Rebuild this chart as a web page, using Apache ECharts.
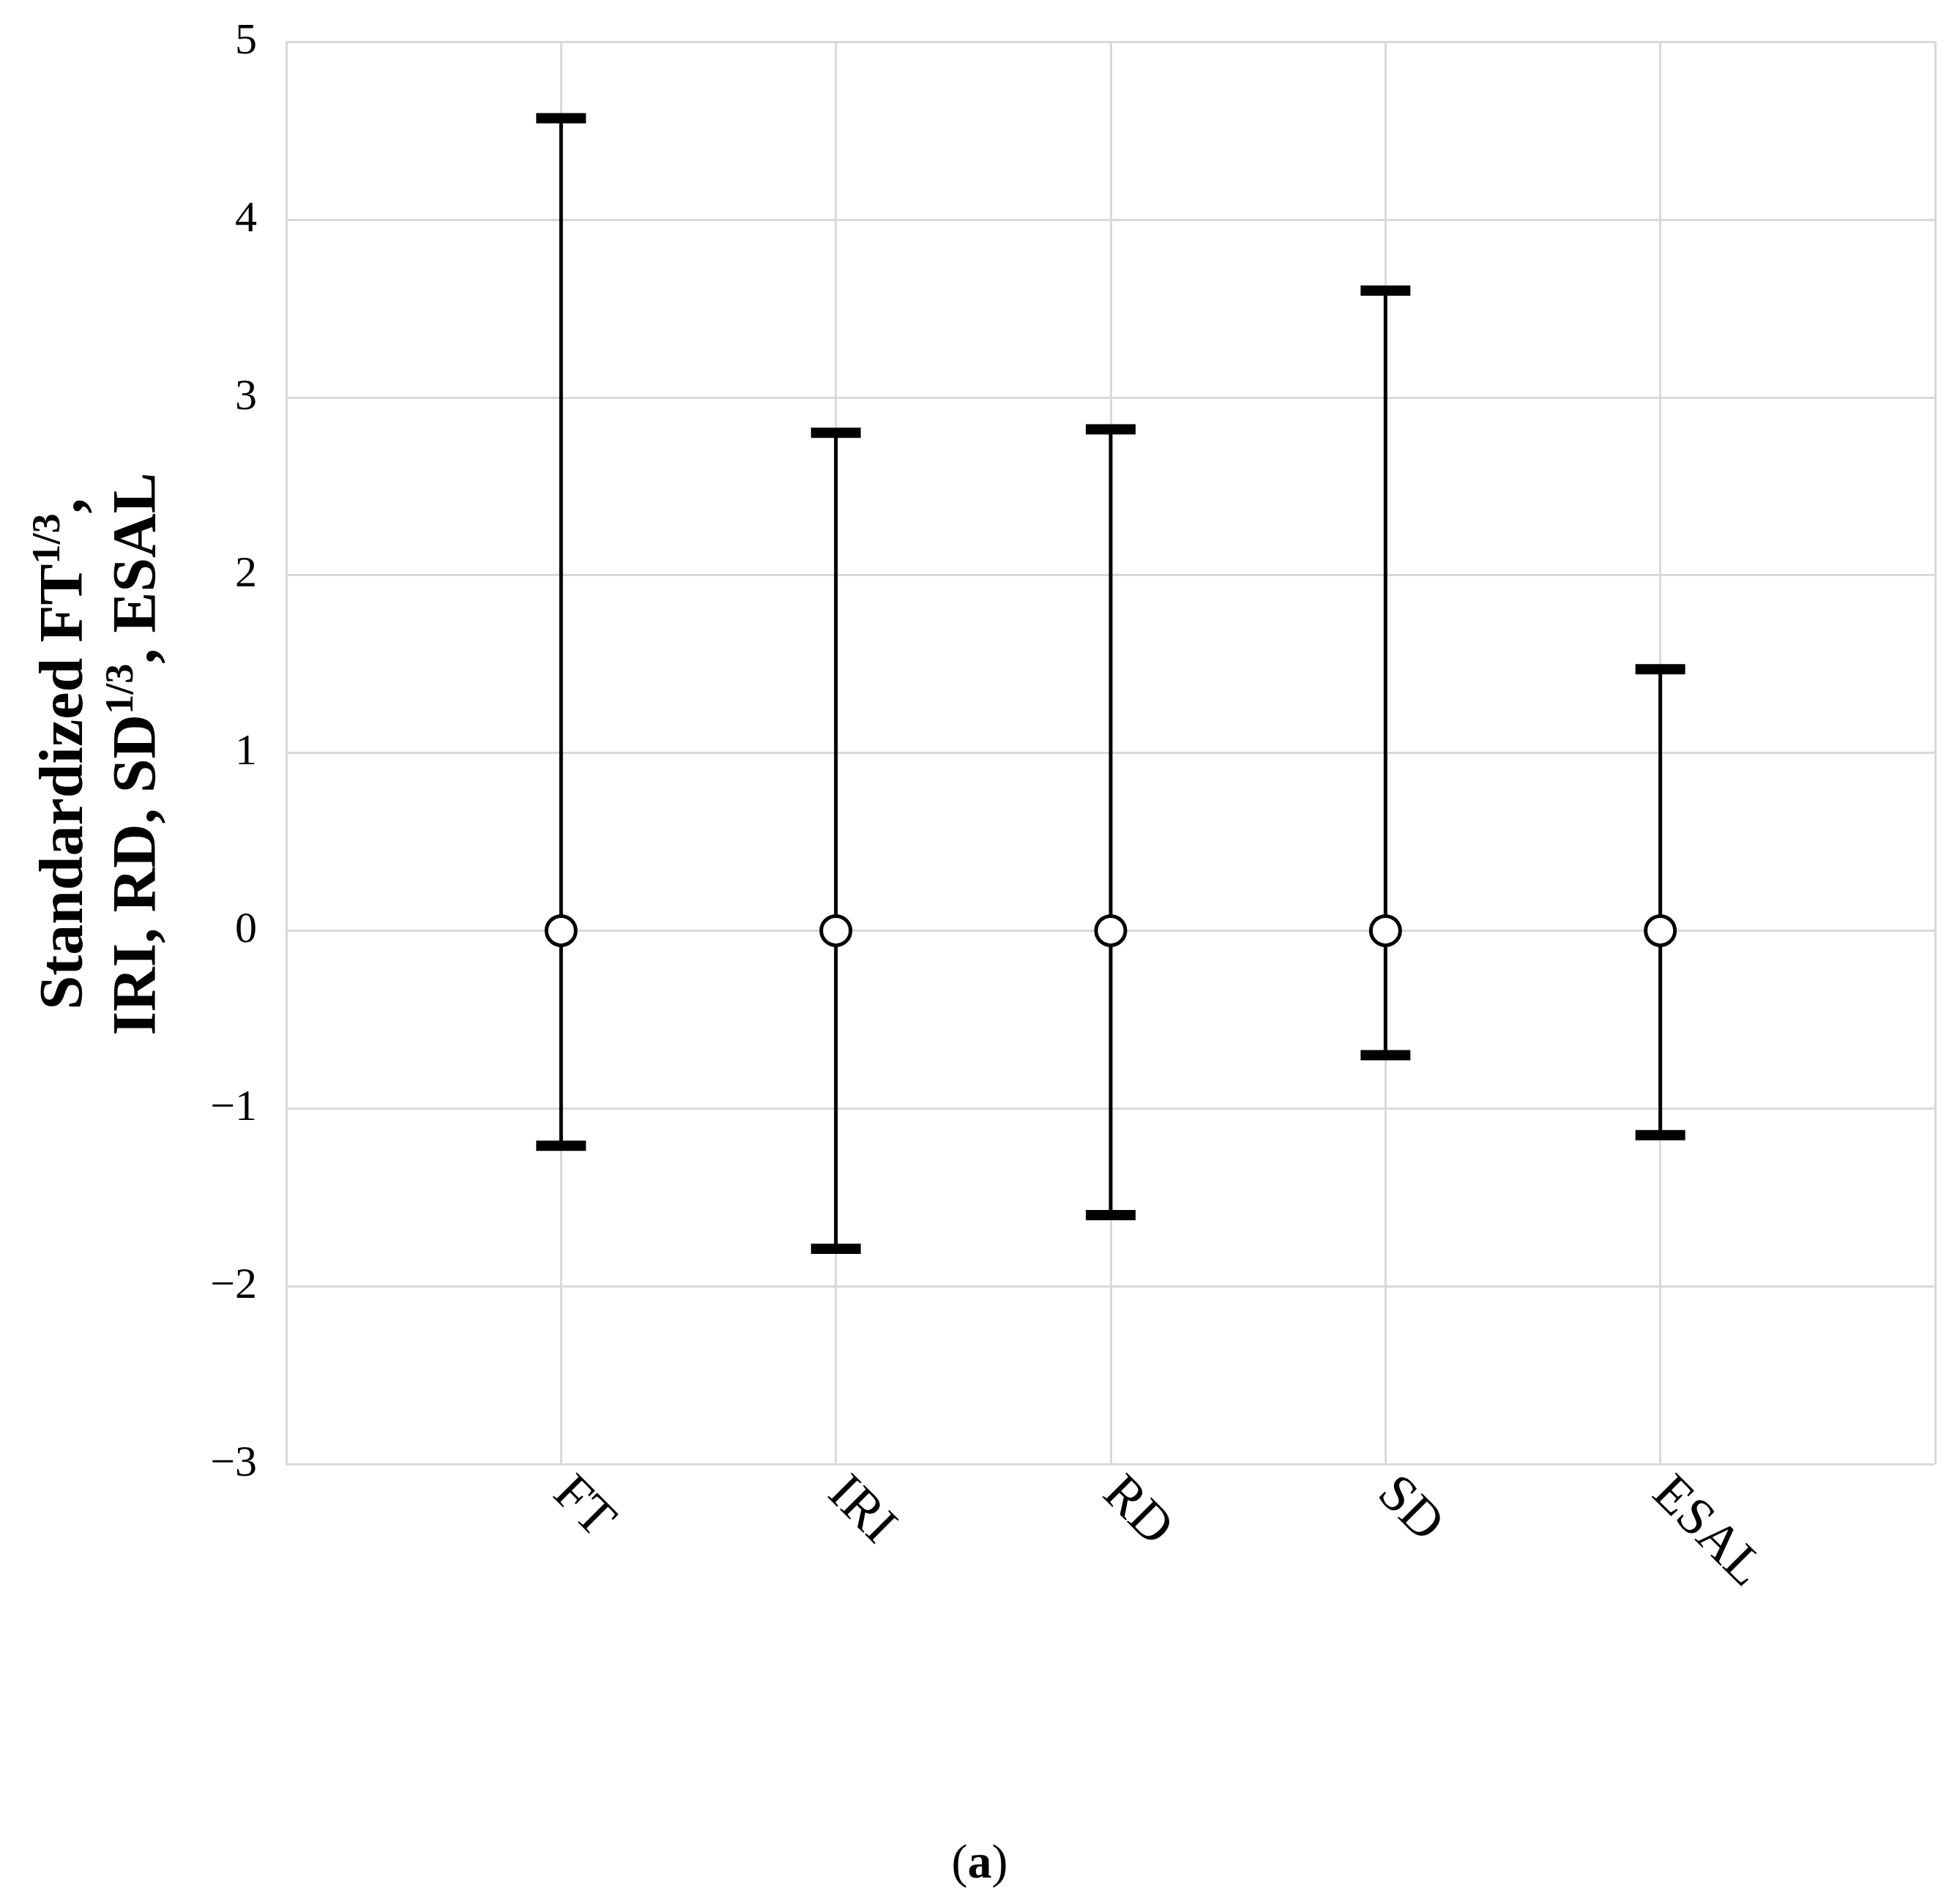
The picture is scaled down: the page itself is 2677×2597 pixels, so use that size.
<!DOCTYPE html>
<html><head><meta charset="utf-8">
<script src="https://cdn.jsdelivr.net/npm/echarts@6/dist/echarts.min.js"></script>
<style>html,body{margin:0;padding:0;background:#fff}#c{width:2677px;height:2597px}</style>
</head><body><div id="c"></div>
<script>
const categories = ['FT','IRI','RD','SD','ESAL'];
const means = [0,0,0,0,0];
const upper = [4.57,2.80,2.82,3.60,1.47];
const lower = [-1.21,-1.79,-1.60,-0.70,-1.15];
const yTicks = [-3,-2,-1,0,1,2,3,4,5];

const data = categories.map((c,i)=>[i+1, means[i], lower[i], upper[i]]);
const chart = echarts.init(document.getElementById('c'));
const font = 'Liberation Serif';
chart.setOption({
  backgroundColor:'#fff',
  animation:false,
  grid:{left:391,right:34,top:57,bottom:597},
  xAxis:{type:'value',min:0,max:6,interval:1,
    axisLine:{show:false},axisTick:{show:false},
    splitLine:{show:true,lineStyle:{color:'#d9d9d9',width:3}},
    axisLabel:{fontFamily:font,fontSize:72,color:'#000',rotate:-45,margin:30,
      formatter:v=>(v>=1&&v<=5)?categories[v-1]:''}},
  yAxis:{type:'value',min:yTicks[0],max:yTicks[yTicks.length-1],interval:1,
    axisLine:{show:true,lineStyle:{color:'#d9d9d9',width:3}},axisTick:{show:false},
    splitLine:{lineStyle:{color:'#d9d9d9',width:3}},
    axisLabel:{fontFamily:font,fontSize:60,color:'#000',margin:40,
      formatter:v=>v<0?'\u2212'+Math.abs(v):String(v)}},
  series:[{type:'custom',data:data,
    renderItem:(params,api)=>{
      const x=api.value(0);
      const m=api.coord([x,api.value(1)]);
      const lo=api.coord([x,api.value(2)]);
      const hi=api.coord([x,api.value(3)]);
      const hw=34;
      const st={stroke:'#000',lineWidth:5};
      const cap={stroke:'#000',lineWidth:14};
      return {type:'group',children:[
        {type:'line',shape:{x1:m[0],y1:lo[1],x2:m[0],y2:m[1]+20},style:st},
        {type:'line',shape:{x1:m[0],y1:m[1]-20,x2:m[0],y2:hi[1]},style:st},
        {type:'line',shape:{x1:m[0]-hw,y1:lo[1],x2:m[0]+hw,y2:lo[1]},style:cap},
        {type:'line',shape:{x1:m[0]-hw,y1:hi[1],x2:m[0]+hw,y2:hi[1]},style:cap},
        {type:'circle',shape:{cx:m[0],cy:m[1],r:20},style:{fill:'#fff',stroke:'#000',lineWidth:5}}
      ]};
    }}],
  graphic:[
    {type:'text',x:140,y:1030,rotation:Math.PI/2,
      style:{text:'{b|Standardized FT}{s|1/3}{b|,}\n{b|IRI, RD, SD}{s|1/3}{b|, ESAL}',
        align:'center',verticalAlign:'middle',lineHeight:100,
        rich:{b:{fontFamily:font,fontSize:84,fontWeight:'bold',fill:'#000',lineHeight:100},
              s:{fontFamily:font,fontSize:54,fontWeight:'bold',fill:'#000',verticalAlign:'top',padding:[0,0,36,0],lineHeight:100}}}},
    {type:'text',x:1338,y:2548,
      style:{text:'({b|a})',fontFamily:font,fontSize:66,fill:'#000',align:'center',verticalAlign:'middle',
        rich:{b:{fontFamily:font,fontSize:66,fontWeight:'bold',fill:'#000'}}}}
  ]
});
</script></body></html>
